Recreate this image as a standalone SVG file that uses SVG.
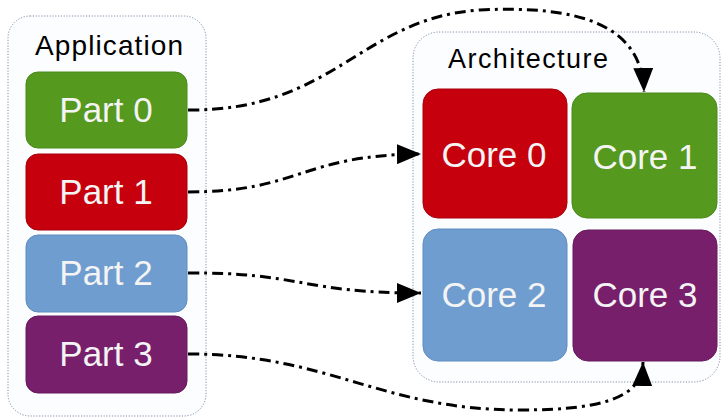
<svg xmlns="http://www.w3.org/2000/svg" width="724" height="418" viewBox="0 0 724 418">
<style>
.cont{fill:#fcfdff;stroke:#7f8fa6;stroke-width:1;stroke-dasharray:1.2 1.6}
.lbl{font-family:"Liberation Sans",Arial,sans-serif;fill:#000}
.t{font-family:"Liberation Sans",Arial,sans-serif;fill:#f4f4f4;text-anchor:middle}
.green{fill:#55991f;stroke:#4a8a1a}
.red{fill:#c6000d;stroke:#a8000b}
.blue{fill:#6f9dd0;stroke:#5f8cbf}
.purple{fill:#781f6c;stroke:#661a5c}
.conn{fill:none;stroke:#000;stroke-width:3;stroke-dasharray:11 5 3 5}
</style>
<defs>
<marker id="ah" markerUnits="userSpaceOnUse" markerWidth="26" markerHeight="20" refX="24" refY="10" orient="auto">
<path d="M0,0 L24,10 L0,20 Z" fill="#000"/>
</marker>
</defs>
<g id="application">
<rect class="cont" x="8" y="16" width="198" height="400" rx="22"/>
<text class="lbl" x="35" y="55" font-size="28" textLength="148">Application</text>
</g>
<g id="part0"><rect class="green" x="26" y="72" width="161" height="76" rx="12"/><text class="t" x="106" y="122" font-size="35">Part 0</text></g>
<g id="part1"><rect class="red" x="26" y="154" width="161" height="76" rx="12"/><text class="t" x="106" y="204" font-size="35">Part 1</text></g>
<g id="part2"><rect class="blue" x="26" y="235" width="161" height="77" rx="12"/><text class="t" x="106" y="285" font-size="35">Part 2</text></g>
<g id="part3"><rect class="purple" x="26" y="316" width="161" height="77" rx="12"/><text class="t" x="106" y="366" font-size="35">Part 3</text></g>
<g id="architecture">
<rect class="cont" x="413" y="32" width="307" height="350" rx="26"/>
<text class="lbl" x="448" y="68" font-size="27" textLength="160">Architecture</text>
</g>
<g id="core0"><rect class="red" x="423" y="89" width="144" height="129" rx="15"/><text class="t" x="494" y="167" font-size="35">Core 0</text></g>
<g id="core1"><rect class="green" x="572" y="93" width="145" height="125" rx="15"/><text class="t" x="645" y="169" font-size="35">Core 1</text></g>
<g id="core2"><rect class="blue" x="423" y="229" width="144" height="132" rx="15"/><text class="t" x="494" y="307" font-size="35">Core 2</text></g>
<g id="core3"><rect class="purple" x="573" y="230" width="144" height="131" rx="15"/><text class="t" x="645" y="307" font-size="35">Core 3</text></g>
<g id="connectors">
<path class="conn" marker-end="url(#ah)" d="M188,110 C335,111 360,18 480,10 C580,5 642,25 644,92"/>
<path class="conn" marker-end="url(#ah)" d="M188,192 C300,192 300,155 421,154"/>
<path class="conn" marker-end="url(#ah)" d="M188,273 C300,272 300,293 421,293"/>
<path class="conn" marker-end="url(#ah)" d="M188,354 C330,354 380,410 520,410 C610,410 642,395 643,362"/>
</g>
</svg>
